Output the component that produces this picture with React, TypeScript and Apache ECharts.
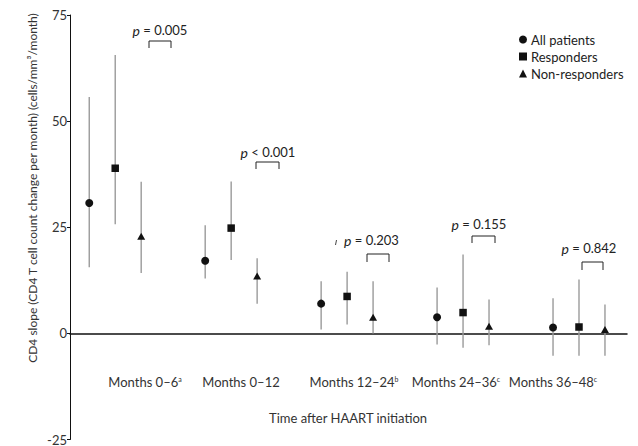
import React, { useEffect, useRef } from 'react';
import * as echarts from 'echarts';

// ---- data ----
const categories = ['Months 0–6', 'Months 0–12', 'Months 12–24', 'Months 24–36', 'Months 36–48'];
const footnotes = ['a', '', 'b', 'c', 'c'];
const seriesNames = ['All patients', 'Responders', 'Non-responders'];

const allMean = [30.7, 17.1, 7.0, 3.8, 1.4];
const allLow = [15.6, 12.9, 0.9, -2.6, -5.3];
const allHigh = [55.7, 25.5, 12.3, 10.8, 8.3];

const respMean = [38.9, 24.8, 8.7, 4.9, 1.5];
const respLow = [25.7, 17.3, 2.1, -3.4, -5.3];
const respHigh = [65.6, 35.8, 14.5, 18.6, 12.7];

const nonMean = [22.9, 13.5, 3.8, 1.7, 0.9];
const nonLow = [14.2, 7.0, 0.0, -2.8, -5.3];
const nonHigh = [35.7, 17.7, 12.3, 8.0, 6.8];

const pOps = ['=', '<', '=', '=', '='];
const pVals = ['0.005', '0.001', '0.203', '0.155', '0.842'];

const yTicks = [-25, 0, 25, 50, 75];

// ---- layout ----
const FONT = 'Lato';
const offsets = [-0.224, 0, 0.224];
const catLabelX = [145, 241, 354, 456, 553];
const catLabelY = 382;
const pText = [
  [160, 30], [268, 152], [371.5, 240], [479, 224], [589, 248],
];
const brackets = [
  [149, 171, 41, 48], [256, 279, 162, 169], [367, 389, 254, 262], [472, 495, 236, 243], [582, 603, 262, 270],
];

export default function App() {
  const ref = useRef<HTMLDivElement>(null);
  useEffect(() => {
    const chart = echarts.init(ref.current!, null, { renderer: 'svg' });

    const means = [allMean, respMean, nonMean];
    const lows = [allLow, respLow, nonLow];
    const highs = [allHigh, respHigh, nonHigh];
    const symbols = ['circle', 'rect', 'triangle'];
    const sizes: any[] = [8, 7.5, [8, 7]];

    const scatterSeries = seriesNames.map((name, s) => ({
      name,
      type: 'scatter',
      symbol: symbols[s],
      symbolSize: sizes[s],
      itemStyle: { color: '#111', opacity: 1 },
      z: 5,
      data: means[s].map((v, i) => [i + 1 + offsets[s], v]),
    }));

    const errData: number[][] = [];
    seriesNames.forEach((_, s) => {
      means[s].forEach((_, i) => {
        errData.push([i + 1 + offsets[s], lows[s][i], highs[s][i]]);
      });
    });

    const errSeries = {
      type: 'custom',
      z: 2,
      silent: true,
      encode: { x: 0, y: [1, 2] },
      renderItem: (params: any, api: any) => {
        const x = api.value(0);
        const lo = api.coord([x, api.value(1)]);
        const hi = api.coord([x, api.value(2)]);
        return {
          type: 'line',
          shape: { x1: lo[0], y1: lo[1], x2: hi[0], y2: hi[1] },
          style: { stroke: '#9a9a9a', lineWidth: 1.4 },
        };
      },
      data: errData,
    };

    const graphics: any[] = [];
    // y axis title
    graphics.push({
      type: 'text',
      x: 32,
      y: 188,
      rotation: Math.PI / 2,
      style: {
        text: 'CD4 slope (CD4 T cell count change per month) (cells/mm³/month)',
        fontFamily: FONT,
        fontSize: 12,
        fill: '#333',
        align: 'center',
        verticalAlign: 'middle',
      },
    });
    // x axis title
    graphics.push({
      type: 'text',
      x: 348,
      y: 418,
      style: {
        text: 'Time after HAART initiation',
        fontFamily: FONT,
        fontSize: 13,
        fill: '#333',
        align: 'center',
        verticalAlign: 'middle',
      },
    });
    // category labels
    categories.forEach((c, i) => {
      graphics.push({
        type: 'text',
        x: catLabelX[i],
        y: catLabelY,
        style: {
          text: footnotes[i] ? `${c}{sup|${footnotes[i]}}` : c,
          fontFamily: FONT,
          fontSize: 13,
          fill: '#333',
          align: 'center',
          verticalAlign: 'middle',
          rich: {
            sup: { fontSize: 7, fontFamily: FONT, fill: '#333', verticalAlign: 'top', lineHeight: 8 },
          },
        },
      });
    });
    // p values
    pVals.forEach((v, i) => {
      graphics.push({
        type: 'text',
        x: pText[i][0],
        y: pText[i][1],
        style: {
          text: `{i|p} ${pOps[i]} ${v}`,
          fontFamily: FONT,
          fontSize: 13,
          fill: '#222',
          align: 'center',
          verticalAlign: 'middle',
          rich: { i: { fontStyle: 'italic', fontFamily: FONT, fontSize: 14, fill: '#222' } },
        },
      });
      const b = brackets[i];
      graphics.push({
        type: 'polyline',
        shape: { points: [[b[0], b[3]], [b[0], b[2]], [b[1], b[2]], [b[1], b[3]]] },
        style: { stroke: '#222', lineWidth: 1, fill: 'none' },
      });
    });
    // stray mark near p = 0.203
    graphics.push({
      type: 'line',
      shape: { x1: 335.5, y1: 245, x2: 336.5, y2: 240 },
      style: { stroke: '#444', lineWidth: 1 },
    });

    const option: any = {
      animation: false,
      backgroundColor: '#fff',
      grid: { left: 70, right: 11, top: 15, bottom: 6, containLabel: false },
      legend: {
        orient: 'vertical',
        left: 514,
        top: 28,
        itemWidth: 8,
        itemHeight: 8,
        itemGap: 4,
        selectedMode: false,
        textStyle: { fontFamily: FONT, fontSize: 13, color: '#222', padding: [0, 0, 0, -1] },
        data: seriesNames.map((n, s) => ({ name: n, icon: symbols[s] })),
      },
      xAxis: {
        type: 'value',
        min: 0.61,
        max: 5.414,
        axisLine: { show: true, onZero: true, lineStyle: { color: '#111', width: 1.5 } },
        axisTick: { show: false },
        axisLabel: { show: false },
        splitLine: { show: false },
      },
      yAxis: {
        type: 'value',
        min: yTicks[0],
        max: yTicks[yTicks.length - 1],
        interval: 25,
        axisLine: { show: true, onZero: false, lineStyle: { color: '#111', width: 1 } },
        axisTick: { show: true, length: 3, lineStyle: { color: '#111' } },
        axisLabel: { fontFamily: FONT, fontSize: 13, color: '#333', margin: 3 },
        splitLine: { show: false },
      },
      series: [errSeries, ...scatterSeries],
      graphic: graphics,
    };
    chart.setOption(option);
    return () => chart.dispose();
  }, []);
  return <div ref={ref} style={{ position: 'fixed', left: 0, top: 0, width: 638, height: 446 }} />;
}
